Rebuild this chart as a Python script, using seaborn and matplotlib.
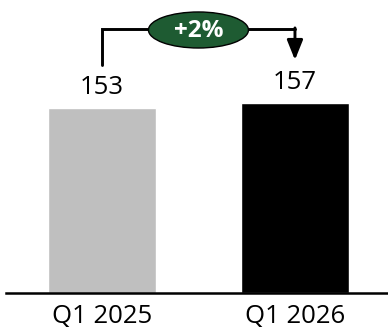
import matplotlib
matplotlib.use("Agg")
import matplotlib.pyplot as plt
import seaborn as sns
import pandas as pd
from matplotlib.patches import Ellipse

categories = ["Q1 2025", "Q1 2026"]
values = [153, 157]
bar_colors = ["#BFBFBF", "#000000"]
change_label = "+2%"

sns.set_theme(style="white")
plt.rcParams["font.family"] = ["Open Sans", "DejaVu Sans"]

df = pd.DataFrame({"period": categories, "value": values})

fig = plt.figure(figsize=(3.88, 3.31), dpi=100)
ax = fig.add_axes([6 / 388, 38 / 331, 382 / 388, 293 / 331])

sns.barplot(data=df, x="period", y="value", hue="period", palette=bar_colors,
            width=0.56, legend=False, ax=ax, saturation=1)

ax.set_xlim(-0.497, 1.482)
ax.set_ylim(0, 242.3)
ax.set_xlabel("")
ax.set_ylabel("")
ax.set_yticks([])
for s in ["top", "right", "left"]:
    ax.spines[s].set_visible(False)
ax.spines["bottom"].set_color("black")
ax.spines["bottom"].set_linewidth(1.8)
ax.tick_params(axis="x", length=0, pad=8, labelsize=18.5, colors="black")

for c in ax.containers:
    ax.bar_label(c, fmt="%d", padding=6, fontsize=18.5, color="black")

# change annotation
y_top = 218.3
lw = 2.1
ax.plot([0, 0, 1], [188.6, y_top, y_top], color="black", lw=lw,
        solid_joinstyle="miter", zorder=3)
ax.annotate("", xy=(1, 192.7), xytext=(1, y_top + 0.9),
            arrowprops=dict(arrowstyle="-|>,head_length=1.0,head_width=0.4",
                            color="black", lw=lw, shrinkA=0, shrinkB=0),
            zorder=3)
ell = Ellipse((0.5, 217.5), width=0.518, height=29.8, facecolor="#1E5B32",
              edgecolor="black", lw=1, zorder=4)
ax.add_patch(ell)
ax.text(0.5, 217.0, change_label, ha="center", va="center", color="white",
        fontsize=17.5, fontweight="bold", zorder=5)

fig.savefig("out.png", dpi=100)
